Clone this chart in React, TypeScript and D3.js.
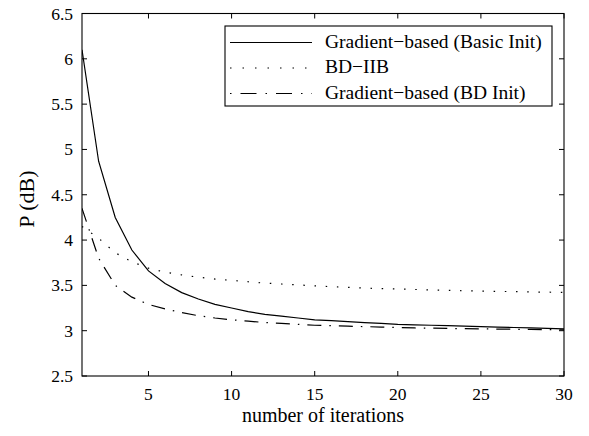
import React from "react";
import * as d3 from "d3";

const iterations = d3.range(1, 31);
const basicInit = [6.1, 4.87, 4.25, 3.89, 3.66, 3.52, 3.42, 3.35, 3.29, 3.25, 3.21, 3.18, 3.16, 3.14, 3.12, 3.11, 3.1, 3.09, 3.08, 3.07, 3.065, 3.06, 3.055, 3.05, 3.045, 3.04, 3.035, 3.03, 3.025, 3.02];
const bdIIB = [4.15, 4.02, 3.86, 3.76, 3.69, 3.645, 3.615, 3.59, 3.57, 3.555, 3.54, 3.525, 3.515, 3.505, 3.495, 3.485, 3.478, 3.47, 3.465, 3.46, 3.455, 3.45, 3.445, 3.44, 3.437, 3.434, 3.431, 3.428, 3.425, 3.422];
const bdInit = [4.35, 3.8, 3.5, 3.37, 3.29, 3.24, 3.2, 3.165, 3.14, 3.12, 3.105, 3.09, 3.08, 3.07, 3.06, 3.055, 3.05, 3.045, 3.04, 3.035, 3.03, 3.028, 3.025, 3.022, 3.02, 3.018, 3.016, 3.014, 3.012, 3.01];
const xTicks = [5, 10, 15, 20, 25, 30];
const yTicks = [2.5, 3, 3.5, 4, 4.5, 5, 5.5, 6, 6.5];
const seriesNames = ["Gradient\u2212based (Basic Init)", "BD\u2212IIB", "Gradient\u2212based (BD Init)"];

const W = 589, H = 436;
const L = 82, R = 564, T = 13.5, B = 376;
const FONT = "'Liberation Serif', 'Times New Roman', serif";

export default function App() {
  const x = d3.scaleLinear().domain([1, 30]).range([L, R]);
  const y = d3.scaleLinear().domain([2.5, 6.5]).range([B, T]);
  const line = d3.line<number>().x((_, i) => x(iterations[i])).y((d) => y(d));
  const series = [
    { data: basicInit, dash: undefined as string | undefined, legDash: undefined as string | undefined },
    { data: bdIIB, dash: "1.5,9.7", legDash: "1.5,11" },
    { data: bdInit, dash: "14,8,1.5,8", legDash: "1.5,9,16,9" },
  ];
  const tl = 5;
  return (
    <svg width={W} height={H} style={{ position: "absolute", left: 0, top: 0, background: "#fff" }} fontFamily={FONT}>
      <rect x={0} y={0} width={W} height={H} fill="#fff" />
      <defs>
        <clipPath id="clip"><rect x={L} y={T} width={R - L} height={B - T} /></clipPath>
      </defs>
      <g clipPath="url(#clip)">
        {series.map((s, i) => (
          <path key={i} d={line(s.data) || ""} fill="none" stroke="#000" strokeWidth={1.2} strokeDasharray={s.dash} />
        ))}
      </g>
      {xTicks.map((t) => (
        <g key={"x" + t}>
          <line x1={x(t)} x2={x(t)} y1={B} y2={B - tl} stroke="#000" />
          <line x1={x(t)} x2={x(t)} y1={T} y2={T + tl} stroke="#000" />
          <text x={x(t)} y={B + 24} textAnchor="middle" fontSize={17.5}>{t}</text>
        </g>
      ))}
      {yTicks.map((t) => (
        <g key={"y" + t}>
          <line x1={L} x2={L + tl} y1={y(t)} y2={y(t)} stroke="#000" />
          <line x1={R} x2={R - tl} y1={y(t)} y2={y(t)} stroke="#000" />
          <text x={L - 9} y={y(t) + 6} textAnchor="end" fontSize={17.5}>{t}</text>
        </g>
      ))}
      <rect x={L} y={T} width={R - L} height={B - T} fill="none" stroke="#000" strokeWidth={1.1} />
      <text x={(L + R) / 2} y={422} textAnchor="middle" fontSize={20}>number of iterations</text>
      <text transform={`translate(34, 199) rotate(-90)`} textAnchor="middle" fontSize={22}>P (dB)</text>
      <rect x={225} y={26} width={327} height={80} fill="#fff" stroke="#000" strokeWidth={1.1} />
      {series.map((s, i) => {
        const by = 47.5 + i * 25.5;
        return (
          <g key={"l" + i}>
            <line x1={230} x2={312} y1={by - 5} y2={by - 5} stroke="#000" strokeWidth={1.2} strokeDasharray={s.legDash} />
            <text x={325} y={by} fontSize={19.5}>{seriesNames[i]}</text>
          </g>
        );
      })}
    </svg>
  );
}
